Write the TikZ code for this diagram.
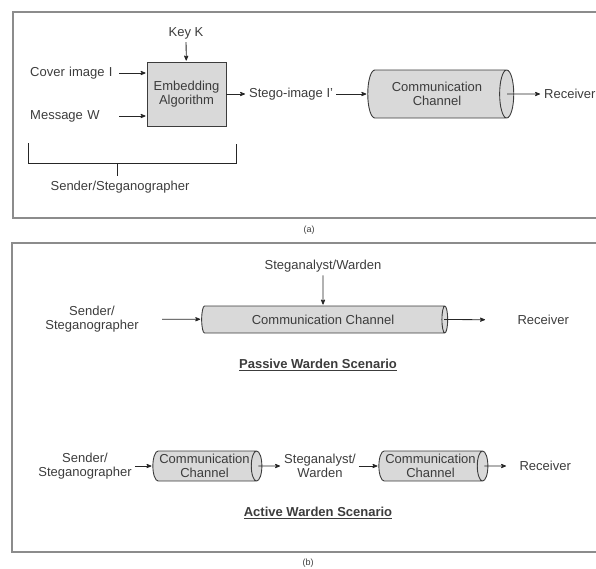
\documentclass[tikz,border=0pt]{standalone}
\usepackage{fontspec}
\setmainfont{Liberation Sans}
\usetikzlibrary{arrows,shapes,calc,graphs}
\definecolor{ink}{HTML}{3C3C3C}
\definecolor{framegray}{HTML}{8C8C8C}
\definecolor{boxfill}{HTML}{D9D9D9}
\tikzset{
    >=stealth',
    shorten >=1pt,
    every node/.style={font=\fontsize{13}{14}\selectfont, text=ink},
    lbl/.style={inner sep=3pt, align=center},
    algbox/.style={draw=ink, fill=boxfill, line width=0.9pt,
        minimum width=79pt, minimum height=64pt, align=center},
    chan/.style={cylinder, draw=ink, fill=boxfill, line width=0.9pt,
        aspect=0.6, inner sep=0pt, align=center},
    panel/.style={draw=framegray, line width=1.2pt},
    wire/.style={draw=black!85, line width=0.8pt},
}

\begin{document}
\begin{tikzpicture}[x=1pt, y=-1pt]
    \useasboundingbox (0,0) rectangle (596,568);

    % (a) embedding
    \draw[panel] (13,12) rectangle (600,218);
    \node[lbl] (key) at (186,33) {Key K};
    \node[algbox] (emb) at (186.5,94) {Embedding\\Algorithm};
    \node[lbl, anchor=west, text width=86pt, align=left] (cover) at (27,73) {Cover image I};
    \node[lbl, anchor=west, text width=86pt, align=left] (msg) at (27,116) {Message W};
    \node[lbl, anchor=west] (stego) at (246,94) {Stego-image I'};
    \node[chan, minimum height=146pt, minimum width=48pt] (ch1) at (437,94) {Communication\\Channel};
    \node[lbl, anchor=west] (rcv1) at (541,94) {Receiver};
    \coordinate (cin) at (cover -| emb.west);
    \coordinate (min) at (msg -| emb.west);
    \coordinate (c1out) at ($(ch1.east)+(-7,0)$);

    \graph[use existing nodes, edges={wire}] {
        key -> emb;
        cover -> cin;
        msg -> min;
        emb -> stego -> ch1;
        c1out -> rcv1;
    };

    % brace under the sender side
    \coordinate (bl) at (28,143);
    \coordinate (br) at (236,143);
    \coordinate (bm) at (117,163);
    \draw[wire] (bl) -- ++(0,20) -| (br);
    \draw[wire] (bm) -- ++(0,14);
    \node[lbl] (sndr) at (120,187) {Sender/Steganographer};
    \node[lbl, font=\fontsize{9}{10}\selectfont] (capa) at (309,230) {(a)};

    % (b) passive and active warden
    \draw[panel] (12,243) rectangle (600,552);
    \node[lbl] (wardP) at (323,266) {Steganalyst/Warden};
    \node[chan, minimum height=246pt, minimum width=27pt] (ch2) at (323,319.5) {Communication Channel};
    \node[lbl, text width=134pt] (sendP) at (92,319) {Sender/\\Steganographer};
    \node[lbl, anchor=west, minimum width=114pt] (rcvP) at (486,320) {Receiver};
    \coordinate (c2out) at ($(ch2.east)+(-4,0)$);
    \node[lbl] (passive) at (318,365) {\underline{\textbf{Passive Warden Scenario}}};

    \node[lbl] (sendA) at (85,466) {Sender/\\Steganographer};
    \node[chan, aspect=0.45, minimum height=109pt, minimum width=30pt] (ch3) at (204.5,466) {Communication\\Channel};
    \node[lbl] (wardA) at (320,466) {Steganalyst/\\Warden};
    \node[chan, aspect=0.45, minimum height=109pt, minimum width=30pt] (ch4) at (430.5,466) {Communication\\Channel};
    \node[lbl, anchor=west, minimum width=76pt] (rcvA) at (507,466) {Receiver};
    \coordinate (c3out) at ($(ch3.east)+(-4,0)$);
    \coordinate (c4out) at ($(ch4.east)+(-4,0)$);
    \node[lbl] (active) at (318,513) {\underline{\textbf{Active Warden Scenario}}};
    \node[lbl, font=\fontsize{9}{10}\selectfont] (capb) at (308,563) {(b)};

    \graph[use existing nodes, edges={wire}] {
        wardP -> ch2;
        sendP -> ch2;
        c2out -> rcvP;
        sendA -> ch3;
        c3out -> wardA -> ch4;
        c4out -> rcvA;
    };
\end{tikzpicture}
\end{document}
